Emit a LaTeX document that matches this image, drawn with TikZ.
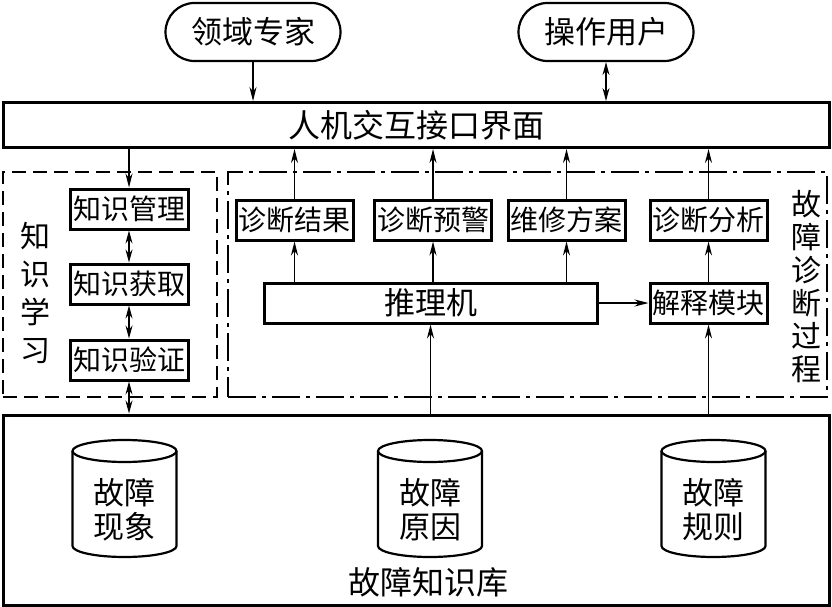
\documentclass[tikz,border=0pt]{standalone}
\usepackage{fontspec}
\newfontfamily\cjk{Noto Sans CJK SC}
\usetikzlibrary{arrows.meta}
\begin{document}
\begin{tikzpicture}[x=1pt,y=-1pt,
 box/.style={draw, line width=3pt, inner sep=0pt, minimum width=117pt, minimum height=40pt, font=\cjk\fontsize{28}{30}\selectfont},
 ln/.style={line width=1.2pt},
 arr/.style={ln, -{Stealth[length=14pt,width=7pt]}},
 darr/.style={ln, {Stealth[length=13pt,width=7pt]}-{Stealth[length=13pt,width=7pt]}},
 term/.style={draw, line width=2.2pt, rounded corners=29pt, minimum width=175pt, minimum height=58pt, font=\cjk\fontsize{31}{33}\selectfont},
 frameA/.style={draw, line width=1.8pt, dash pattern=on 14pt off 7pt, minimum width=214pt, minimum height=225pt},
 frameB/.style={draw, line width=1.8pt, dash pattern=on 28pt off 6pt on 4pt off 6pt, minimum width=599pt, minimum height=225pt},
 vlbl/.style={align=center, inner sep=0pt},
 cyl/.style={line width=2.2pt}
]
\useasboundingbox (0,0) rectangle (832,607);

% top terminals and bar
\node[term] (expert) at (253,32) {领域专家};
\node[term] (user) at (606,32) {操作用户};
\node[box, minimum width=826pt, minimum height=45pt, font=\cjk\fontsize{32}{34}\selectfont] (hmi) at (416,125) {人机交互接口界面};

% knowledge learning frame
\node[frameA] (learn) at (110,284.5) {};
\node[vlbl, font=\cjk\fontsize{30}{38}\selectfont] (learnlbl) at (35,293) {知\\识\\学\\习};
\node[box, minimum width=118pt] (km) at (129,209) {知识管理};
\node[box, minimum width=118pt] (ka) at (129,284) {知识获取};
\node[box, minimum width=118pt] (kv) at (129,360) {知识验证};

% diagnosis frame
\node[frameB] (diag) at (527.5,284.5) {};
\node[vlbl, font=\cjk\fontsize{30}{33}\selectfont] (diaglbl) at (806,287) {故\\障\\诊\\断\\过\\程};
\node[box] (r1) at (294.5,220) {诊断结果};
\node[box] (r2) at (433,220) {诊断预警};
\node[box] (r3) at (566.5,220) {维修方案};
\node[box] (r4) at (708.5,220) {诊断分析};
\node[box, minimum width=333pt, font=\cjk\fontsize{31}{33}\selectfont] (infer) at (430.5,303) {推理机};
\node[box] (explain) at (708.5,303) {解释模块};

% knowledge base
\node[draw, line width=3pt, minimum width=826pt, minimum height=190pt] (kb) at (416,510) {};
\node[font=\cjk\fontsize{32}{34}\selectfont] (kblbl) at (428,582) {故障知识库};

\foreach \cx/\nm/\ta/\tb in {124.5/c1/故障/现象, 430/c2/故障/原因, 713.5/c3/故障/规则}{
  \draw[cyl] (\cx-52,451) -- (\cx-52,546) arc[start angle=180, end angle=360, x radius=52pt, y radius=11pt] -- (\cx+52,451);
  \draw[cyl] (\cx,451) ellipse[x radius=52pt, y radius=11pt];
  \node[vlbl, font=\cjk\fontsize{31}{34}\selectfont] (\nm) at (\cx,510) {\ta\\\tb};
}

% connectors
\draw[arr] (expert.south) -- (hmi.north -| expert.south);
\draw[darr] (user.south) -- (hmi.north -| user.south);
\draw[arr] (hmi.south -| km.north) -- (km.north);
\draw[darr] (km.south) -- (ka.north);
\draw[darr] (ka.south) -- (kv.north);
\draw[darr] (kv.south) -- (kb.north -| kv.south);
\foreach \r in {r1,r2,r3,r4}{
  \draw[arr] (\r.north) -- (hmi.south -| \r.north);
}
\foreach \r in {r1,r2,r3}{
  \draw[arr] (infer.north -| \r.south) -- (\r.south);
}
\draw[arr] (explain.north) -- (r4.south);
\draw[arr] (infer.east) -- (explain.west);
\draw[arr] (kb.north -| infer.south) -- (infer.south);
\draw[arr] (kb.north -| explain.south) -- (explain.south);
\end{tikzpicture}
\end{document}
